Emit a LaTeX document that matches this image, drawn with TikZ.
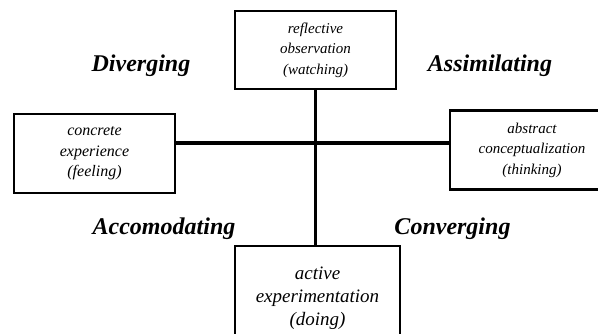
\documentclass[tikz,border=0pt]{standalone}
\usepackage{fontspec}
\setmainfont{Liberation Serif}
\begin{document}
\begin{tikzpicture}[x=1pt,y=-1pt,
  box/.style={draw=black,line width=2.9pt,fill=white,inner sep=0pt,align=center,
    font=\fontsize{15}{20.5}\selectfont\itshape},
  bigbox/.style={box,font=\fontsize{19}{23}\selectfont\itshape},
  style/.style={anchor=base,font=\fontsize{24}{28}\selectfont\bfseries\itshape},
  axis/.style={line width=3.6pt}]
\clip (0,0) rectangle (598,333);
\node[box,minimum width=161pt,minimum height=78pt] (refl) at (315.5,50) {reflective\\observation\\(watching)};
\node[box,minimum width=161pt,minimum height=79pt,font=\fontsize{16}{20.5}\selectfont\itshape] (conc) at (94.5,153.5) {concrete\\experience\\(feeling)};
\node[box,minimum width=164pt,minimum height=79pt] (abst) at (532,150) {abstract\\conceptualization\\(thinking)};
\node[bigbox,minimum width=165pt,minimum height=104pt] (acti) at (317.5,298) {active\\experimentation\\(doing)};
\coordinate (cross) at (315.5,143);
\draw[axis] (refl.south) -- (refl.south |- acti.north);
\draw[axis] (conc.east |- cross) -- (abst.west |- cross);
\node[style] (div) at (141,71) {Diverging};
\node[style] (ass) at (490,71) {Assimilating};
\node[style] (acc) at (164,234) {Accomodating};
\node[style] (con) at (452.5,234) {Converging};
\end{tikzpicture}
\end{document}
